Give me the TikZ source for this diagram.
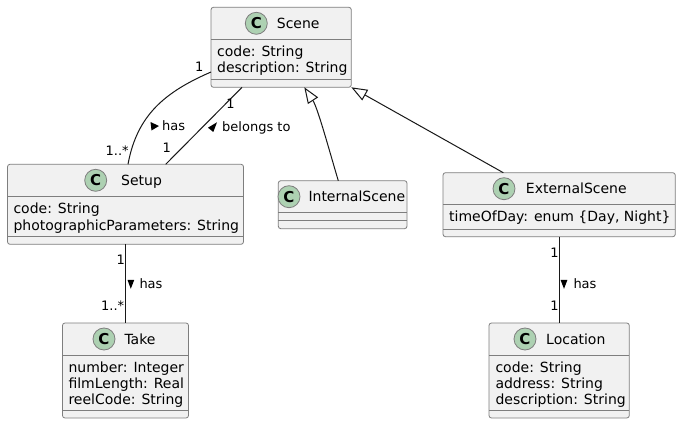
\documentclass[tikz,border=0pt]{standalone}
\usepackage{fontspec}
\setmainfont{DejaVu Sans}
\usetikzlibrary{calc,arrows.meta}
\definecolor{boxfill}{HTML}{F1F1F1}
\definecolor{ink}{HTML}{181818}
\definecolor{frame}{HTML}{7E7E7E}
\definecolor{spot}{HTML}{ADD1B2}
\begin{document}
\begin{tikzpicture}[x=1pt,y=-1pt,
  cls/.style={draw=frame, line width=0.8pt, fill=boxfill, rounded corners=2.5pt, inner sep=0pt, outer sep=0pt},
  sepline/.style={draw=frame, line width=0.8pt},
  spotc/.style={circle, draw=frame, line width=0.8pt, fill=spot, minimum size=22pt, inner sep=0pt, font=\fontsize{15}{15}\bfseries\selectfont},
  cname/.style={anchor=base west, inner sep=0pt, font=\fontsize{14}{16}\selectfont},
  attr/.style={anchor=base west, inner sep=0pt, font=\fontsize{14}{16}\selectfont},
  lbl/.style={anchor=base west, inner sep=0pt, font=\fontsize{13}{15}\selectfont},
  mult/.style={anchor=base, inner sep=0pt, font=\fontsize{13}{15}\selectfont},
  conn/.style={draw=ink, line width=1pt},
  gen/.style={draw=ink, line width=1pt, -{Triangle[fill=white, length=16pt, width=12pt]}},
  dirtri/.style={fill=black, draw=none}
]
\fill[white] (0,0) rectangle (681,425);
\useasboundingbox (0,0) rectangle (681,425);

% ---------- class boxes ----------
\node[cls, minimum width=140.3pt, minimum height=80pt] (scene) at (281.15,47.3) {};
\node[cls, minimum width=236pt, minimum height=80pt] (setup) at (125.5,204.3) {};
\node[cls, minimum width=126pt, minimum height=95pt] (take) at (125.5,370.5) {};
\node[cls, minimum width=128.7pt, minimum height=48pt] (internal) at (342.65,204.7) {};
\node[cls, minimum width=232.3pt, minimum height=64pt] (external) at (559.15,204.7) {};
\node[cls, minimum width=140.3pt, minimum height=95pt] (location) at (559.15,370.5) {};

% separators
\foreach \n/\a/\b in {scene/32/72, setup/32/72, take/32/87, internal/32/40, external/32/57, location/32/87}{
  \draw[sepline] ($(\n.north west)+(0,\a)$) -- ($(\n.north east)+(0,\a)$);
  \draw[sepline] ($(\n.north west)+(0,\b)$) -- ($(\n.north east)+(0,\b)$);
}

% spots
\node[spotc] (scenec) at (256.3,23.3) {C};
\node[spotc] (setupc) at (95.7,180.3) {C};
\node[spotc] (takec) at (104,339) {C};
\node[spotc] (internalc) at (289,196.7) {C};
\node[spotc] (externalc) at (504,188.7) {C};
\node[spotc] (locationc) at (525,339) {C};

% names
\node[cname] (scenen) at (276.7,28.3) {Scene};
\node[cname] (setupn) at (121,185.3) {Setup};
\node[cname] (taken) at (124.3,344) {Take};
\node[cname] (internaln) at (308.3,201.7) {InternalScene};
\node[cname] (externaln) at (525.7,193.7) {ExternalScene};
\node[cname] (locationn) at (546,344) {Location};

% attributes
\node[attr] (sa1) at (217,57) {code: String};
\node[attr] (sa2) at (217,73) {description: String};
\node[attr] (ua1) at (13.3,214) {code: String};
\node[attr] (ua2) at (13.3,230.5) {photographicParameters: String};
\node[attr] (ta1) at (68.3,372) {number: Integer};
\node[attr] (ta2) at (68.3,388) {filmLength: Real};
\node[attr] (ta3) at (68.3,404.3) {reelCode: String};
\node[attr] (ea1) at (449,221.7) {timeOfDay: enum \{Day, Night\}};
\node[attr] (la1) at (495.3,372) {code: String};
\node[attr] (la2) at (495.3,388) {address: String};
\node[attr] (la3) at (495.3,404.3) {description: String};

% ---------- connectors ----------
\draw[conn] ($(scene.north west)+(0,64.7)$) .. controls (165,92) and (137,115) .. ($(setup.north west)+(120.5,0)$);
\draw[conn] ($(scene.south west)+(31,0)$) -- ($(setup.north west)+(158.2,0)$);
\draw[gen] ($(internal.north west)+(60,0)$) .. controls (329.3,150.7) and (317.8,108) .. ($(scene.south west)+(93.3,0)$);
\draw[gen] ($(external.north west)+(60.3,0)$) -- (scene.south east);
\draw[conn] (setup.south) -- (take.north);
\draw[conn] (external.south) -- (location.north);

% direction triangles
\fill[dirtri] (150.5,122) -- (159,126) -- (151.5,130.5) -- cycle;
\fill[dirtri] (217,122.3) -- (208,127.7) -- (213.3,132) -- cycle;
\fill[dirtri] (127.5,280) -- (134.2,280) -- (130.8,288.8) -- cycle;
\fill[dirtri] (560.6,280) -- (567.4,280) -- (564,288.8) -- cycle;

% labels
\node[mult] (m1) at (199.3,71.4) {1};
\node[lbl] (m2) at (105.5,155.7) {1..*};
\node[mult] (m3) at (230.5,108.5) {1};
\node[mult] (m4) at (166.7,153) {1};
\node[lbl] (has1) at (162,130.7) {has};
\node[lbl] (bel) at (222,131.7) {belongs to};
\node[mult] (m5) at (120.7,264.7) {1};
\node[lbl] (has2) at (139.3,288.7) {has};
\node[lbl] (m6) at (101,310.4) {1..*};
\node[mult] (m7) at (554.5,258) {1};
\node[lbl] (has3) at (573.3,288.7) {has};
\node[mult] (m8) at (554.5,310.7) {1};
\end{tikzpicture}
\end{document}
